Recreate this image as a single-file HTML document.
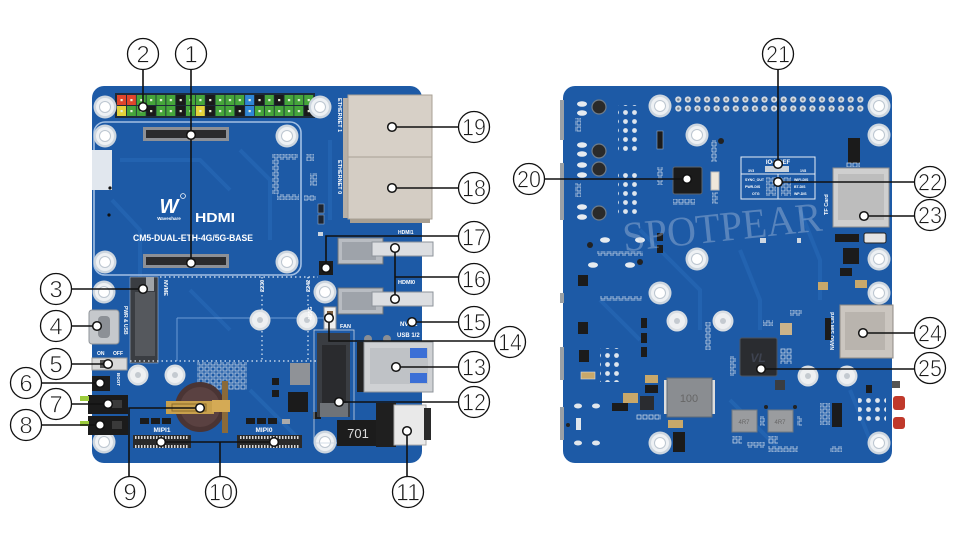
<!DOCTYPE html>
<html><head><meta charset="utf-8"><style>
html,body{margin:0;padding:0;background:#fff;}
svg{display:block}
.n{font-family:"Liberation Sans",sans-serif;font-size:24px;fill:#1a1a1a;text-anchor:middle;stroke:#fff;stroke-width:0.7px}
.w{font-family:"Liberation Sans",sans-serif;fill:#fff;font-weight:bold}
.ln{stroke:#111;stroke-width:1.6;fill:none}
.dt{fill:#fff;stroke:#111;stroke-width:1.5}
.cc{fill:#fff;stroke:#111;stroke-width:1.3}
</style></head><body>
<svg width="960" height="551" viewBox="0 0 960 551" xmlns="http://www.w3.org/2000/svg">
<defs>
<g id="hole"><circle r="11.5" fill="#cdd6df"/><circle r="9" fill="#eef1f4"/><circle r="5.5" fill="#fff" stroke="#bcc6d0" stroke-width="1"/></g>
<g id="so"><circle r="10.5" fill="#d9dee3"/><circle r="8" fill="#eef0f2"/><circle r="3" fill="#c4cad0"/></g>
<pattern id="hdr" x="673.5" y="95" width="9.58" height="9" patternUnits="userSpaceOnUse"><circle cx="4.8" cy="4.5" r="3.1" fill="#d5dbe2"/><circle cx="4.8" cy="4.5" r="1.3" fill="#6f7f90"/></pattern>
<pattern id="pin" x="117" y="95" width="9.85" height="11" patternUnits="userSpaceOnUse"><rect x="3.5" y="4" width="2.2" height="2.2" fill="#e6eed8"/></pattern>
<pattern id="wd" width="9" height="9" patternUnits="userSpaceOnUse"><circle cx="4.5" cy="4.5" r="2.4" fill="#dfe6ee"/></pattern>
<pattern id="pads" width="6" height="6" patternUnits="userSpaceOnUse"><rect x="1" y="1" width="4" height="4" fill="none" stroke="#c9d6e6" stroke-width="0.8"/></pattern>
<pattern id="teeth" width="3" height="4" patternUnits="userSpaceOnUse"><rect width="1.5" height="4" fill="#d8d8d8"/></pattern>
</defs>
<rect width="960" height="551" fill="#fff"/>

<!-- ================= LEFT BOARD ================= -->
<rect x="92" y="86" width="330" height="377" rx="12" fill="#1d5aa6"/>
<g stroke="#2566b3" stroke-width="4" fill="none" opacity="0.8">
<path d="M112 200 L140 230 L140 300"/><path d="M240 150 L270 180 L270 240"/><path d="M120 160 L200 160 L230 190"/>
<path d="M190 290 L230 330"/><path d="M330 140 L330 220"/><path d="M250 390 L300 440"/>
</g>
<rect x="94" y="122" width="207" height="153" rx="11" fill="none" stroke="#a3c0e4" stroke-width="1.6"/>
<!-- header -->
<rect x="115" y="93" width="200" height="25" fill="#1c2a3a"/>
<g>
<rect x="117" y="95" width="9" height="10" fill="#e0452b"/><rect x="126.9" y="95" width="9" height="10" fill="#e0452b"/>
<rect x="136.7" y="95" width="9" height="10" fill="#45a53a"/><rect x="146.6" y="95" width="9" height="10" fill="#45a53a"/>
<rect x="156.4" y="95" width="9" height="10" fill="#45a53a"/><rect x="166.3" y="95" width="9" height="10" fill="#45a53a"/>
<rect x="176.1" y="95" width="9" height="10" fill="#1a1a1a"/><rect x="186" y="95" width="9" height="10" fill="#45a53a"/>
<rect x="195.8" y="95" width="9" height="10" fill="#45a53a"/><rect x="205.7" y="95" width="9" height="10" fill="#1a1a1a"/>
<rect x="215.5" y="95" width="9" height="10" fill="#45a53a"/><rect x="225.4" y="95" width="9" height="10" fill="#45a53a"/>
<rect x="235.2" y="95" width="9" height="10" fill="#45a53a"/><rect x="245.1" y="95" width="9" height="10" fill="#2f86d6"/>
<rect x="254.9" y="95" width="9" height="10" fill="#1a1a1a"/><rect x="264.8" y="95" width="9" height="10" fill="#45a53a"/>
<rect x="274.6" y="95" width="9" height="10" fill="#1a1a1a"/><rect x="284.5" y="95" width="9" height="10" fill="#45a53a"/>
<rect x="294.3" y="95" width="9" height="10" fill="#45a53a"/><rect x="304.2" y="95" width="9" height="10" fill="#45a53a"/>

<rect x="117" y="106" width="9" height="10" fill="#e3d23a"/><rect x="126.9" y="106" width="9" height="10" fill="#45a53a"/>
<rect x="136.7" y="106" width="9" height="10" fill="#45a53a"/><rect x="146.6" y="106" width="9" height="10" fill="#1a1a1a"/>
<rect x="156.4" y="106" width="9" height="10" fill="#45a53a"/><rect x="166.3" y="106" width="9" height="10" fill="#45a53a"/>
<rect x="176.1" y="106" width="9" height="10" fill="#1a1a1a"/><rect x="186" y="106" width="9" height="10" fill="#45a53a"/>
<rect x="195.8" y="106" width="9" height="10" fill="#e3d23a"/><rect x="205.7" y="106" width="9" height="10" fill="#1a1a1a"/>
<rect x="215.5" y="106" width="9" height="10" fill="#45a53a"/><rect x="225.4" y="106" width="9" height="10" fill="#45a53a"/>
<rect x="235.2" y="106" width="9" height="10" fill="#1a1a1a"/><rect x="245.1" y="106" width="9" height="10" fill="#2f86d6"/>
<rect x="254.9" y="106" width="9" height="10" fill="#45a53a"/><rect x="264.8" y="106" width="9" height="10" fill="#45a53a"/>
<rect x="274.6" y="106" width="9" height="10" fill="#45a53a"/><rect x="284.5" y="106" width="9" height="10" fill="#45a53a"/>
<rect x="294.3" y="106" width="9" height="10" fill="#45a53a"/><rect x="304.2" y="106" width="9" height="10" fill="#1a1a1a"/>
</g>
<rect x="117" y="95" width="197" height="21" fill="url(#pin)"/>
<!-- holes -->
<use href="#hole" x="105" y="107"/><use href="#hole" x="320" y="107"/>
<use href="#hole" x="105" y="136"/><use href="#hole" x="287" y="136"/>
<use href="#hole" x="105" y="262"/><use href="#hole" x="287" y="262"/>
<use href="#hole" x="104" y="292"/><use href="#hole" x="325" y="292"/>
<use href="#hole" x="104" y="442"/><use href="#hole" x="325" y="442"/>
<rect x="92" y="150" width="20" height="40" fill="#e1e7ee"/>
<circle cx="110" cy="188" r="1.6" fill="#111"/><circle cx="109" cy="215" r="1.6" fill="#111"/>
<rect x="143" y="127" width="86" height="14" fill="#8d9096"/><rect x="146" y="130" width="80" height="8" fill="#2b2b2d"/>
<rect x="143" y="254" width="86" height="14" fill="#8d9096"/><rect x="146" y="257" width="80" height="8" fill="#2b2b2d"/>
<text x="169" y="213" class="w" font-style="italic" font-size="20" text-anchor="middle">W</text>
<circle cx="183" cy="196" r="2.4" fill="none" stroke="#fff" stroke-width="0.8"/>
<text x="169" y="220" class="w" font-size="4.5" text-anchor="middle">Waveshare</text>
<text x="195" y="222" class="w" font-size="13" textLength="40" lengthAdjust="spacingAndGlyphs">HDMI</text>
<text x="133" y="241" class="w" font-size="9.5" textLength="120" lengthAdjust="spacingAndGlyphs">CM5-DUAL-ETH-4G/5G-BASE</text>
<rect x="272" y="154" width="26" height="6" fill="url(#pads)"/>
<rect x="272" y="160" width="7" height="34" fill="url(#pads)"/>
<rect x="277" y="194" width="22" height="6" fill="url(#pads)"/>
<rect x="306" y="154" width="8" height="7" fill="url(#pads)"/>
<rect x="310" y="173" width="7" height="13" fill="url(#pads)"/>
<rect x="304" y="195" width="12" height="6" fill="url(#pads)"/>
<rect x="318" y="204" width="6" height="9" fill="#1d2430" stroke="#8fa8c8" stroke-width="0.6"/>
<rect x="318" y="215" width="6" height="9" fill="#1d2430" stroke="#8fa8c8" stroke-width="0.6"/>
<rect x="318" y="232" width="5" height="4" fill="#cdd6e0"/>
<!-- ethernet -->
<rect x="343" y="98" width="6" height="120" fill="#b6afa6"/>
<rect x="348" y="95" width="84" height="62" fill="#d7d0c7" stroke="#a9a196"/>
<rect x="348" y="157" width="84" height="62" fill="#d4cdc4" stroke="#a9a196"/>
<rect x="350" y="219" width="80" height="4" fill="#a89f92"/>
<text class="w" font-size="5.5" transform="translate(338,98) rotate(90)">ETHERNET 1</text>
<text class="w" font-size="5.5" transform="translate(338,160) rotate(90)">ETHERNET 0</text>
<!-- HDMI1 -->
<text class="w" font-size="5" x="398" y="234">HDMI1</text>
<rect x="338" y="238" width="45" height="26" fill="#b8bcc2" stroke="#6d737b"/>
<rect x="342" y="242" width="34" height="18" fill="#9ea3aa"/>
<rect x="372" y="242" width="61" height="14" fill="#dcdee1" stroke="#8d939a"/>
<rect x="319" y="261" width="14" height="14" fill="#1b1b1b"/>
<!-- HDMI0 -->
<text class="w" font-size="5.5" x="398" y="284">HDMI0</text>
<rect x="338" y="288" width="45" height="26" fill="#b8bcc2" stroke="#6d737b"/>
<rect x="342" y="292" width="34" height="18" fill="#9ea3aa"/>
<rect x="372" y="292" width="61" height="14" fill="#dcdee1" stroke="#8d939a"/>
<!-- FAN -->
<rect x="324" y="307" width="12" height="22" fill="#eeeeee" stroke="#8a8f96"/>
<rect x="327" y="311" width="6" height="8" fill="#7a5a3a"/>
<text class="w" font-size="5.5" x="340" y="328">FAN</text>
<text class="w" font-size="6" x="400" y="326">NVME</text>
<text class="w" font-size="6" x="397" y="337">USB 1/2</text>
<circle cx="368" cy="339" r="4" fill="#8a8e94"/><circle cx="387" cy="339" r="4" fill="#8a8e94"/>
<!-- NVME slot -->
<rect x="130" y="277" width="28" height="86" fill="#3a3d42" stroke="#9fb3cc" stroke-width="0.6"/>
<rect x="135" y="292" width="20" height="64" fill="#55585d"/>
<rect x="146" y="277" width="8" height="14" fill="#a0a4a9"/>
<text class="w" font-size="5.5" transform="translate(164,280) rotate(90)">NVME</text>
<g stroke="#e3ecf7" stroke-width="1.2" stroke-dasharray="1.5 3" fill="none">
<path d="M160 277 H318"/><path d="M130 361 H318"/><path d="M262 277 V360"/><path d="M308 277 V360"/>
</g>
<g stroke="#6b9ad4" stroke-width="1" fill="none"><path d="M177 318 H330"/><path d="M177 318 V361"/></g>
<text class="w" font-size="5.5" transform="translate(264,292) rotate(-90)">2230</text>
<text class="w" font-size="5.5" transform="translate(310,292) rotate(-90)">2242</text>
<use href="#so" x="260" y="320"/><use href="#so" x="307" y="320"/>
<!-- USB-C -->
<rect x="89" y="310" width="30" height="34" rx="3" fill="#c5c8cc" stroke="#8f949a"/>
<rect x="98" y="316" width="12" height="22" rx="4" fill="#8c9096"/>
<text class="w" font-size="5" transform="translate(124,306) rotate(90)">PWR &amp; USB</text>
<text class="w" font-size="5" x="97" y="355">ON</text><text class="w" font-size="5" x="113" y="355">OFF</text>
<rect x="92" y="358" width="35" height="12" fill="#d9d9d9" stroke="#999"/>
<rect x="100" y="360" width="10" height="8" fill="#555"/>
<rect x="92" y="376" width="18" height="15" fill="#1c1c1c"/>
<circle cx="101" cy="383" r="3" fill="#333"/>
<text class="w" font-size="4.5" transform="translate(117,373) rotate(90)">BOOT</text>
<rect x="88" y="395" width="40" height="19" fill="#1b1b1b"/>
<rect x="88" y="416" width="40" height="19" fill="#1b1b1b"/>
<rect x="80" y="396" width="9" height="5" fill="#9ccc3c"/><rect x="80" y="421" width="9" height="5" fill="#9ccc3c"/>
<rect x="112" y="400" width="10" height="8" fill="#3a3a3a"/><rect x="112" y="421" width="10" height="8" fill="#3a3a3a"/>
<use href="#so" x="138" y="375"/><use href="#so" x="175" y="375"/>
<rect x="197" y="362" width="50" height="28" fill="url(#pads)"/>
<!-- battery -->
<circle cx="200" cy="407" r="25" fill="#4a3434"/>
<circle cx="200" cy="407" r="20" fill="#5a4141"/>
<rect x="222" y="381" width="6" height="52" fill="#8a6a3a"/>
<rect x="166" y="401" width="48" height="13" fill="#c8a04c"/>
<rect x="172" y="404" width="34" height="7" fill="none" stroke="#8a6a2a" stroke-width="1"/>
<rect x="212" y="400" width="18" height="12" fill="#d4aa55"/>
<rect x="290" y="363" width="20" height="22" fill="#8f9297"/>
<rect x="272" y="378" width="7" height="7" fill="#1b1b1b"/><rect x="272" y="390" width="7" height="7" fill="#1b1b1b"/>
<rect x="288" y="392" width="20" height="20" fill="#1b1b1b"/>
<rect x="313" y="412" width="8" height="7" fill="#1b1b1b"/>
<!-- MIPI -->
<rect x="140" y="418" width="9" height="6" fill="#1b1b1b"/><rect x="151" y="418" width="9" height="6" fill="#1b1b1b"/><rect x="162" y="418" width="9" height="6" fill="#1b1b1b"/>
<rect x="246" y="418" width="9" height="6" fill="#1b1b1b"/><rect x="257" y="418" width="9" height="6" fill="#1b1b1b"/><rect x="268" y="418" width="9" height="6" fill="#1b1b1b"/>
<rect x="282" y="419" width="8" height="5" fill="#aaa"/>
<text class="w" font-size="6.5" x="162" y="432" text-anchor="middle">MIPI1</text>
<text class="w" font-size="6.5" x="264" y="432" text-anchor="middle">MIPI0</text>
<rect x="133" y="435" width="58" height="13" fill="#2a2a2a"/><rect x="135" y="436" width="54" height="3" fill="url(#teeth)"/><rect x="135" y="445" width="54" height="3" fill="url(#teeth)"/>
<rect x="237" y="435" width="65" height="13" fill="#2a2a2a"/><rect x="239" y="436" width="61" height="3" fill="url(#teeth)"/><rect x="239" y="445" width="61" height="3" fill="url(#teeth)"/>
<!-- 4G/5G slot -->
<rect x="314" y="330" width="40" height="113" fill="none" stroke="#c8d4e2" stroke-width="0.8"/>
<rect x="317" y="333" width="33" height="84" fill="#3a3d42"/>
<rect x="322" y="345" width="24" height="58" fill="#2a2b2e"/>
<rect x="320" y="403" width="28" height="14" fill="#6f7378"/>
<text class="w" font-size="5" transform="translate(312,320) rotate(-90)">4G5G</text>
<!-- USB3 -->
<rect x="357" y="342" width="9" height="50" fill="#222"/>
<rect x="364" y="342" width="69" height="50" fill="#cfd1d4" stroke="#8e9399"/>
<rect x="370" y="348" width="58" height="36" fill="#bfc2c6"/>
<rect x="410" y="348" width="17" height="10" fill="#3b6fd6"/><rect x="410" y="373" width="17" height="10" fill="#3b6fd6"/>
<rect x="337" y="420" width="42" height="26" fill="#1c1c1c"/>
<text x="358" y="438" font-family="Liberation Sans,sans-serif" font-size="13" fill="#ddd" text-anchor="middle">701</text>
<rect x="376" y="403" width="20" height="44" fill="#1f1f1f"/>
<rect x="394" y="405" width="32" height="40" fill="#e9e9e9" stroke="#aaa"/>
<rect x="424" y="408" width="7" height="32" fill="#2a2a2a"/>

<!-- ================= RIGHT BOARD ================= -->
<rect x="563" y="86" width="329" height="377" rx="12" fill="#1d5aa6"/>
<g stroke="#2566b3" stroke-width="4" fill="none" opacity="0.8">
<path d="M640 230 L700 290 L700 330"/><path d="M740 250 L760 300 L760 330"/><path d="M800 210 L820 260 L820 300"/>
<path d="M600 300 L640 340"/><path d="M730 400 L780 450"/><path d="M850 390 L870 440"/>
</g>
<rect x="560" y="100" width="4" height="40" fill="#9aa0a6"/><rect x="560" y="163" width="4" height="57" fill="#9aa0a6"/>
<rect x="560" y="293" width="4" height="10" fill="#9aa0a6"/><rect x="560" y="347" width="4" height="33" fill="#9aa0a6"/>
<rect x="560" y="407" width="4" height="33" fill="#9aa0a6"/>
<rect x="673.5" y="95" width="191.6" height="18" fill="url(#hdr)"/>
<use href="#hole" x="660" y="106"/><use href="#hole" x="879" y="106"/>
<use href="#hole" x="697" y="135"/><use href="#hole" x="879" y="135"/>
<use href="#hole" x="697" y="259"/><use href="#hole" x="879" y="259"/>
<use href="#hole" x="660" y="293"/><use href="#hole" x="879" y="293"/>
<use href="#hole" x="660" y="443"/><use href="#hole" x="879" y="443"/>
<use href="#so" x="677" y="321"/><use href="#so" x="723" y="321"/>
<use href="#so" x="808" y="376"/><use href="#so" x="847" y="376"/>
<g fill="#2a2a2a" stroke="#6f7c8a" stroke-width="1.2">
<circle cx="599" cy="107" r="7"/><circle cx="599" cy="151" r="7"/><circle cx="599" cy="169" r="7"/><circle cx="599" cy="213" r="7"/>
</g>
<g fill="#e6ebf0">
<ellipse cx="582" cy="104" rx="5" ry="2.8"/><ellipse cx="582" cy="113" rx="5" ry="2.8"/>
<ellipse cx="582" cy="145" rx="5" ry="2.8"/><ellipse cx="582" cy="154" rx="5" ry="2.8"/>
<ellipse cx="582" cy="165" rx="5" ry="2.8"/><ellipse cx="582" cy="175" rx="5" ry="2.8"/>
<ellipse cx="582" cy="207" rx="5" ry="2.8"/><ellipse cx="582" cy="217" rx="5" ry="2.8"/>
<ellipse cx="605" cy="240" rx="5" ry="2.8"/><ellipse cx="640" cy="240" rx="5" ry="2.8"/>
<ellipse cx="593" cy="265" rx="5" ry="2.8"/><ellipse cx="630" cy="265" rx="5" ry="2.8"/>
</g>
<rect x="618" y="105" width="20" height="48" fill="url(#wd)"/>
<rect x="618" y="170" width="20" height="48" fill="url(#wd)"/>
<rect x="575" y="118" width="6" height="14" fill="url(#pads)"/><rect x="575" y="183" width="6" height="14" fill="url(#pads)"/>
<rect x="657" y="131" width="6" height="18" fill="#1b1b1b" stroke="#8fa8c8" stroke-width="0.6"/>
<rect x="657" y="167" width="6" height="18" fill="url(#pads)"/>
<rect x="657" y="233" width="6" height="8" fill="#1b1b1b"/><rect x="657" y="245" width="6" height="8" fill="#1b1b1b"/>
<rect x="597" y="251" width="46" height="5" fill="url(#pads)"/>
<circle cx="590" cy="245" r="3" fill="#222"/><circle cx="640" cy="262" r="3" fill="#222"/>
<rect x="673" y="167" width="29" height="27" rx="2" fill="#1b1b1b" stroke="#5a6470"/>
<rect x="673" y="199" width="22" height="6" fill="url(#pads)"/>
<rect x="711" y="140" width="6" height="22" fill="url(#pads)"/><circle cx="721" cy="141" r="3" fill="#222"/>
<rect x="711" y="172" width="8" height="18" fill="#efe7da" stroke="#bbb"/>
<rect x="712" y="192" width="6" height="12" fill="url(#pads)"/>
<!-- jumper box -->
<rect x="741" y="157" width="74" height="42" fill="none" stroke="#e8eef6" stroke-width="1"/>
<path d="M741 174 H815 M778 174 V199" stroke="#e8eef6" stroke-width="1"/>
<text class="w" font-size="6" x="778" y="164" text-anchor="middle">IO-VREF</text>
<text class="w" font-size="3.5" x="748" y="172">3V3</text><text class="w" font-size="3.5" x="800" y="172">1V8</text>
<rect x="765" y="166" width="24" height="6" fill="#c9d2dc"/>
<text class="w" font-size="3.5" x="745" y="181">SYNC_OUT</text><text class="w" font-size="3.5" x="745" y="188">PWR-DIS</text><text class="w" font-size="3.5" x="752" y="195">OTG</text>
<text class="w" font-size="3.5" x="794" y="181">WIFI-DIS</text><text class="w" font-size="3.5" x="794" y="188">BT-DIS</text><text class="w" font-size="3.5" x="794" y="195">WP-DIS</text>
<rect x="766" y="177" width="10" height="19" fill="url(#pads)"/><rect x="781" y="177" width="10" height="19" fill="url(#pads)"/>
<rect x="848" y="138" width="12" height="25" fill="#1b1b1b"/>
<rect x="846" y="162" width="14" height="5" fill="url(#pads)"/>
<rect x="760" y="238" width="6" height="5" fill="#cfd8e2"/><rect x="797" y="238" width="4" height="5" fill="#cfd8e2"/>
<!-- TF card -->
<rect x="833" y="168" width="56" height="59" fill="#cfcfcf" stroke="#8f8f8f"/>
<rect x="838" y="174" width="46" height="46" fill="#bdbdbd"/>
<text class="w" font-size="5.5" transform="translate(828,215) rotate(-90)">TF Card</text>
<rect x="835" y="234" width="24" height="8" fill="#1b1b1b"/><rect x="864" y="233" width="22" height="10" rx="2" fill="#e4e4e4" stroke="#222"/>
<rect x="843" y="248" width="16" height="16" fill="#1b1b1b"/>
<rect x="840" y="268" width="12" height="8" fill="#1b1b1b"/><rect x="855" y="280" width="12" height="8" fill="#c8a86a"/>
<rect x="818" y="282" width="10" height="8" fill="#c8a86a"/>
<!-- SIM -->
<text class="w" font-size="5" transform="translate(834,350) rotate(-90)">NANO SIM Card</text>
<rect x="825" y="318" width="6" height="22" fill="#1b1b1b"/>
<rect x="840" y="305" width="53" height="53" fill="#cbc6c0" stroke="#8f8a84"/>
<rect x="845" y="312" width="40" height="38" fill="#b9b4ae"/>
<!-- chip 25 -->
<rect x="740" y="338" width="37" height="38" rx="2" fill="#2a2c30" stroke="#4a5360"/>
<text x="758" y="362" font-family="Liberation Sans,sans-serif" font-size="12" font-style="italic" font-weight="bold" fill="#3e4350" text-anchor="middle">VL</text>
<rect x="730" y="356" width="6" height="20" fill="url(#pads)"/>
<rect x="780" y="348" width="12" height="16" fill="url(#pads)"/>
<rect x="780" y="323" width="12" height="12" fill="#cbb38a"/>
<rect x="763" y="320" width="10" height="6" fill="url(#pads)"/>
<rect x="790" y="310" width="12" height="6" fill="url(#pads)"/>
<rect x="775" y="380" width="10" height="10" fill="#3a3d42"/>
<rect x="578" y="275" width="10" height="11" fill="#1b1b1b"/><rect x="578" y="322" width="10" height="12" fill="#1b1b1b"/><rect x="579" y="350" width="10" height="12" fill="#1b1b1b"/>
<rect x="581" y="372" width="14" height="7" fill="#c8a86a" stroke="#ddd" stroke-width="0.6"/>
<rect x="600" y="348" width="21" height="34" fill="url(#wd)"/>
<rect x="600" y="296" width="42" height="5" fill="url(#pads)"/>
<rect x="641" y="318" width="6" height="10" fill="#1b1b1b"/><rect x="641" y="333" width="6" height="10" fill="#1b1b1b"/><rect x="641" y="347" width="6" height="10" fill="#1b1b1b"/>
<rect x="705" y="322" width="6" height="28" fill="url(#pads)"/>
<rect x="623" y="393" width="15" height="10" fill="#c8a86a"/><rect x="612" y="403" width="16" height="8" fill="#1b1b1b"/>
<rect x="645" y="375" width="13" height="8" fill="#c8a86a"/><rect x="645" y="385" width="13" height="8" fill="#1b1b1b"/>
<rect x="640" y="396" width="14" height="14" fill="#2a2c30"/>
<rect x="636" y="414" width="25" height="6" fill="url(#pads)"/>
<rect x="668" y="420" width="15" height="8" fill="#c8a86a"/>
<rect x="673" y="432" width="12" height="20" fill="#1b1b1b"/>
<circle cx="568" cy="425" r="2" fill="#222"/><rect x="576" y="418" width="5" height="12" fill="#e0e6ec"/>
<ellipse cx="578" cy="443" rx="4" ry="2.5" fill="#e0e6ec"/><ellipse cx="596" cy="443" rx="4" ry="2.5" fill="#e0e6ec"/>
<ellipse cx="578" cy="406" rx="4" ry="2.5" fill="#e0e6ec"/><ellipse cx="596" cy="406" rx="4" ry="2.5" fill="#e0e6ec"/>
<rect x="664" y="380" width="4" height="34" fill="#ddd"/><rect x="711" y="380" width="4" height="34" fill="#ddd"/>
<rect x="667" y="378" width="45" height="39" fill="#8a8d91" stroke="#5e6a78"/>
<text x="689" y="402" font-family="Liberation Sans,sans-serif" font-size="11" fill="#666" text-anchor="middle">100</text>
<rect x="732" y="410" width="25" height="22" fill="#9a9c9f" stroke="#6e7882"/>
<rect x="768" y="410" width="25" height="22" fill="#9a9c9f" stroke="#6e7882"/>
<text x="744" y="424" font-family="Liberation Sans,sans-serif" font-size="6" fill="#666" text-anchor="middle">4R7</text>
<text x="780" y="424" font-family="Liberation Sans,sans-serif" font-size="6" fill="#666" text-anchor="middle">4R7</text>
<circle cx="766" cy="407" r="2" fill="#222"/><circle cx="795" cy="407" r="2" fill="#222"/>
<rect x="760" y="416" width="5" height="10" fill="url(#pads)"/><rect x="797" y="416" width="5" height="10" fill="url(#pads)"/>
<rect x="732" y="436" width="10" height="8" fill="url(#pads)"/><rect x="747" y="442" width="18" height="6" fill="url(#pads)"/>
<rect x="768" y="436" width="10" height="8" fill="url(#pads)"/><rect x="768" y="446" width="30" height="6" fill="url(#pads)"/>
<rect x="830" y="446" width="12" height="6" fill="url(#pads)"/>
<rect x="820" y="403" width="10" height="22" fill="url(#pads)"/><rect x="832" y="403" width="10" height="24" fill="#1b1b1b"/>
<rect x="858" y="395" width="28" height="30" fill="url(#wd)"/>
<rect x="866" y="385" width="6" height="8" fill="#1b1b1b"/>
<rect x="893" y="396" width="12" height="14" rx="3" fill="#c0392b"/><rect x="893" y="417" width="12" height="12" rx="3" fill="#c0392b"/>
<rect x="892" y="381" width="8" height="7" fill="#555"/>
<text x="622" y="241" font-family="Liberation Serif,serif" font-size="42" fill="#c6d3e6" opacity="0.35" textLength="200" lengthAdjust="spacingAndGlyphs" transform="rotate(-6 722 225)">SPOTPEAR</text>

<!-- ================= CALLOUTS ================= -->
<g class="ln">
<path d="M191 70 V263"/><path d="M143 70 V107"/>
<path d="M392 127 H459"/><path d="M392 188 H459"/>
<path d="M326 268 V236 H459"/>
<path d="M395 248 V299 M395 277 H459"/>
<path d="M412 322 H459"/>
<path d="M329 318 V341 H495"/>
<path d="M396 367 H459"/><path d="M339 402 H459"/>
<path d="M407 431 V477"/>
<path d="M161 442 H274 M220 442 V477"/>
<path d="M200 408 H129 V477"/>
<path d="M41 425 H100"/><path d="M71 404 H108"/><path d="M41 383 H100"/><path d="M71 364 H108"/><path d="M71 326 H97"/><path d="M71 289 H143"/>
<path d="M544 179 H687"/><path d="M778 70 V164"/>
<path d="M778 182 H915"/><path d="M864 216 H915"/><path d="M863 333 H915"/><path d="M761 369 H915"/>
</g>
<g class="dt">
<circle cx="191" cy="135" r="4.3"/><circle cx="191" cy="263" r="4.3"/><circle cx="143" cy="107" r="4.3"/>
<circle cx="392" cy="127" r="4.3"/><circle cx="392" cy="188" r="4.3"/><circle cx="326" cy="268" r="4.3"/>
<circle cx="395" cy="248" r="4.3"/><circle cx="395" cy="299" r="4.3"/><circle cx="412" cy="322" r="4.3"/>
<circle cx="329" cy="318" r="4.3"/><circle cx="396" cy="367" r="4.3"/><circle cx="339" cy="402" r="4.3"/>
<circle cx="407" cy="431" r="4.3"/><circle cx="161" cy="442" r="4.3"/><circle cx="274" cy="442" r="4.3"/>
<circle cx="200" cy="408" r="4.3"/><circle cx="100" cy="425" r="4.3"/><circle cx="108" cy="404" r="4.3"/>
<circle cx="100" cy="383" r="4.3"/><circle cx="108" cy="364" r="4.3"/><circle cx="97" cy="326" r="4.3"/>
<circle cx="143" cy="289" r="4.3"/>
<circle cx="687" cy="179" r="4.3"/><circle cx="778" cy="164" r="4.3"/><circle cx="778" cy="182" r="4.3"/>
<circle cx="864" cy="216" r="4.3"/><circle cx="863" cy="333" r="4.3"/><circle cx="761" cy="369" r="4.3"/>
</g>
<g class="cc">
<circle cx="191" cy="54" r="15.5"/><circle cx="143" cy="54" r="15.5"/>
<circle cx="56" cy="289" r="15.5"/><circle cx="56" cy="326" r="15.5"/><circle cx="56" cy="364" r="15.5"/>
<circle cx="26" cy="383" r="15.5"/><circle cx="56" cy="404" r="15.5"/><circle cx="26" cy="425" r="15.5"/>
<circle cx="130" cy="492" r="15.5"/><circle cx="221" cy="492" r="15.5"/><circle cx="408" cy="492" r="15.5"/>
<circle cx="474" cy="402" r="15.5"/><circle cx="474" cy="367" r="15.5"/><circle cx="510" cy="342" r="15.5"/>
<circle cx="474" cy="322" r="15.5"/><circle cx="474" cy="279" r="15.5"/><circle cx="474" cy="237" r="15.5"/>
<circle cx="474" cy="188" r="15.5"/><circle cx="474" cy="127" r="15.5"/>
<circle cx="529" cy="179" r="15.5"/><circle cx="778" cy="54" r="15.5"/>
<circle cx="930" cy="182" r="15.5"/><circle cx="930" cy="215" r="15.5"/><circle cx="930" cy="333" r="15.5"/><circle cx="930" cy="368" r="15.5"/>
</g>
<g>
<text class="n" x="191" y="62.5">1</text><text class="n" x="143" y="62.5">2</text>
<text class="n" x="56" y="297.5">3</text><text class="n" x="56" y="334.5">4</text><text class="n" x="56" y="372.5">5</text>
<text class="n" x="26" y="391.5">6</text><text class="n" x="56" y="412.5">7</text><text class="n" x="26" y="433.5">8</text>
<text class="n" x="130" y="500.5">9</text>
<text class="n" x="221" y="500.5" textLength="24" lengthAdjust="spacingAndGlyphs">10</text>
<text class="n" x="408" y="500.5" textLength="24" lengthAdjust="spacingAndGlyphs">11</text>
<text class="n" x="474" y="410.5" textLength="24" lengthAdjust="spacingAndGlyphs">12</text>
<text class="n" x="474" y="375.5" textLength="24" lengthAdjust="spacingAndGlyphs">13</text>
<text class="n" x="510" y="350.5" textLength="24" lengthAdjust="spacingAndGlyphs">14</text>
<text class="n" x="474" y="330.5" textLength="24" lengthAdjust="spacingAndGlyphs">15</text>
<text class="n" x="474" y="287.5" textLength="24" lengthAdjust="spacingAndGlyphs">16</text>
<text class="n" x="474" y="245.5" textLength="24" lengthAdjust="spacingAndGlyphs">17</text>
<text class="n" x="474" y="196.5" textLength="24" lengthAdjust="spacingAndGlyphs">18</text>
<text class="n" x="474" y="135.5" textLength="24" lengthAdjust="spacingAndGlyphs">19</text>
<text class="n" x="529" y="187.5" textLength="24" lengthAdjust="spacingAndGlyphs">20</text>
<text class="n" x="778" y="62.5" textLength="24" lengthAdjust="spacingAndGlyphs">21</text>
<text class="n" x="930" y="190.5" textLength="24" lengthAdjust="spacingAndGlyphs">22</text>
<text class="n" x="930" y="223.5" textLength="24" lengthAdjust="spacingAndGlyphs">23</text>
<text class="n" x="930" y="341.5" textLength="24" lengthAdjust="spacingAndGlyphs">24</text>
<text class="n" x="930" y="376.5" textLength="24" lengthAdjust="spacingAndGlyphs">25</text>
</g>
</svg>
</body></html>
